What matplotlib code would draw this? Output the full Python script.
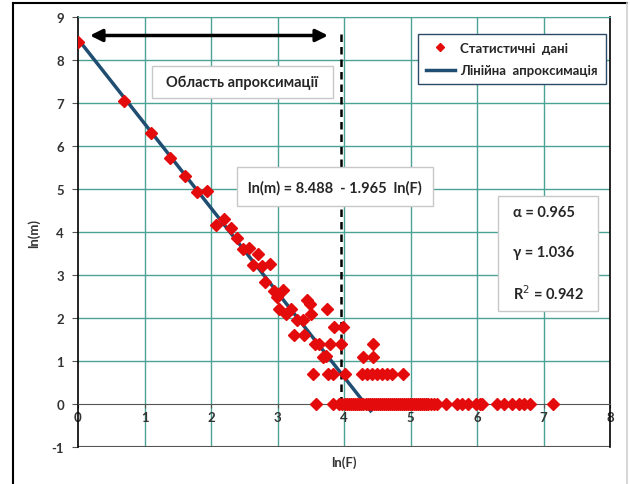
import matplotlib
matplotlib.use("Agg")
import matplotlib.pyplot as plt
from matplotlib.patches import Rectangle
from matplotlib.lines import Line2D

plt.rcParams['font.family'] = ['Lato', 'DejaVu Sans']

# ---- data ----
x_upper = [0.0, 0.693, 1.099, 1.386, 1.609, 1.792, 1.946, 2.079, 2.197, 2.303,
           2.398, 2.485, 2.575, 2.708, 2.639, 2.76, 2.89, 2.81, 2.94, 2.99,
           3.09, 3.03, 3.13, 3.20, 3.29, 3.39, 3.45, 3.49, 3.51, 3.25,
           3.40, 3.75, 3.85, 3.98, 3.56, 3.63, 3.79, 3.95, 3.69, 3.73,
           3.54, 3.76, 3.83, 4.02, 4.28, 4.44, 4.44]
y_upper = [8.41, 7.05, 6.31, 5.72, 5.30, 4.94, 4.96, 4.17, 4.30, 4.09,
           3.87, 3.61, 3.62, 3.49, 3.23, 3.21, 3.26, 2.84, 2.62, 2.50,
           2.65, 2.21, 2.09, 2.21, 1.95, 1.95, 2.43, 2.33, 2.09, 1.61,
           1.61, 2.21, 1.79, 1.79, 1.39, 1.39, 1.39, 1.39, 1.10, 1.12,
           0.69, 0.69, 0.69, 0.69, 1.10, 1.10, 1.39]
x_row069 = [4.27, 4.34, 4.42, 4.49, 4.57, 4.64, 4.72, 4.88]
y_row069 = [0.69] * len(x_row069)
x_row0 = [3.58, 3.83, 3.93, 3.97, 4.01, 4.04, 4.08, 4.11, 4.14, 4.17, 4.20,
          4.22, 4.25, 4.29, 4.33, 4.36, 4.39, 4.42, 4.45, 4.48, 4.51, 4.54,
          4.57, 4.60, 4.63, 4.66, 4.69, 4.72, 4.75, 4.78, 4.81, 4.84, 4.87,
          4.90, 4.93, 4.96, 4.99, 5.02, 5.05, 5.08, 5.11, 5.14, 5.17, 5.20,
          5.23, 5.27, 5.31, 5.35, 5.40, 5.53, 5.70, 5.78, 5.86, 5.99, 6.04,
          6.08, 6.30, 6.40, 6.53, 6.63, 6.71, 6.79, 7.15]
y_row0 = [0.0] * len(x_row0)

fit_a = 8.488
fit_b = 1.965
fit_x = [0.0, 4.40]
cutoff_x = 3.96

x_ticks = [0, 1, 2, 3, 4, 5, 6, 7, 8]
y_ticks = [-1, 0, 1, 2, 3, 4, 5, 6, 7, 8, 9]

legend_labels = ["Статистичні  дані", "Лінійна  апроксимація"]
region_text = "Область апроксимації"
eq_text = "ln(m) = 8.488  - 1.965  ln(F)"
param_lines = ["\u03b1 = 0.965", "\u03b3 = 1.036", "R$^2$ = 0.942"]

# ---- figure ----
W, H = 630, 485
fig = plt.figure(figsize=(W / 100, H / 100), dpi=100)
ax = fig.add_axes([78 / W, (H - 448) / H, (610 - 78) / W, (448 - 18) / H])
ax.set_xlim(0, 8)
ax.set_ylim(-1, 9)

grid_c = '#4aa394'
for xv in x_ticks[1:-1]:
    ax.axvline(xv, color=grid_c, lw=1.0, zorder=0)
for yv in y_ticks[2:]:
    ax.axhline(yv, color=grid_c, lw=1.0, zorder=0)

ax.spines['bottom'].set_position(('data', 0))
ax.spines['bottom'].set_color('#555555')
ax.spines['left'].set_color('#000000')
ax.spines['right'].set_color('#000000')
ax.spines['top'].set_color(grid_c)
ax.axhline(-1, color='#555555', lw=1.5, zorder=1)
ax.spines['left'].set_linewidth(1.2)
ax.spines['right'].set_linewidth(1.2)

ax.set_xticks(x_ticks)
ax.set_yticks(y_ticks)
tick_font = dict(fontsize=9.5, fontweight='bold', color='#333333')
ax.set_xticklabels([str(v) for v in x_ticks], **tick_font)
ax.set_yticklabels([str(v) for v in y_ticks], **tick_font)
ax.tick_params(axis='x', length=3, pad=2, color='#555555')
ax.tick_params(axis='y', length=4, pad=6, color='#555555')

ax.set_xlabel('ln(F)', fontsize=9.5, fontweight='bold', color='#333333')
ax.xaxis.set_label_coords(0.5, -0.02)
ax.set_ylabel('ln(m)', fontsize=9.5, fontweight='bold', color='#333333')
ax.yaxis.set_label_coords(-0.072, 0.5)

# fit line
fit_y = [fit_a - fit_b * v for v in fit_x]
line_c = '#1f4e72'
ax.plot(fit_x, fit_y, color=line_c, lw=2.5, zorder=3, label=legend_labels[1])

# points
mk = dict(marker='D', ms=6.5, color='#e30b0b', mec='#e30b0b', ls='none', zorder=4)
ax.plot(x_upper + x_row069 + x_row0, y_upper + y_row069 + y_row0, label=legend_labels[0], **mk)

# cutoff dashed line
ax.plot([cutoff_x, cutoff_x], [0, 8.68], color='black', lw=1.8, ls=(0, (3, 2)), zorder=3)

# double arrow
ax.annotate('', xy=(0.18, 8.57), xytext=(3.76, 8.57),
            arrowprops=dict(arrowstyle='<|-|>', color='black', lw=2.5,
                            mutation_scale=18, shrinkA=0, shrinkB=0), zorder=5)

box_ec = '#c8c8c8'
# region box
ax.add_patch(Rectangle((1.108, 7.107), 3.829 - 1.108, 7.865 - 7.107, fc='white', ec=box_ec, lw=1, zorder=5))
ax.text((1.108 + 3.829) / 2, (7.107 + 7.865) / 2, region_text, ha='center', va='center',
        fontsize=10.5, fontweight='bold', color='#262626', zorder=6)
# equation box
ax.add_patch(Rectangle((2.395, 4.595), 5.343 - 2.395, 5.505 - 4.595, fc='white', ec=box_ec, lw=1, zorder=5))
ax.text((2.395 + 5.343) / 2, (4.595 + 5.505) / 2, eq_text, ha='center', va='center',
        fontsize=10.5, fontweight='bold', color='#262626', zorder=6)
# parameter box
ax.add_patch(Rectangle((6.32, 2.16), 7.82 - 6.32, 4.84 - 2.16, fc='white', ec=box_ec, lw=1, zorder=5))
for i, s in enumerate(param_lines):
    ax.text(6.54, 4.47 - 0.935 * i, s, ha='left', va='center',
            fontsize=10.5, fontweight='bold', color='#262626', zorder=6)

# legend (points first, then line)
h, l = ax.get_legend_handles_labels()
leg = ax.legend([h[1], h[0]], [l[1], l[0]], loc='upper left',
                bbox_to_anchor=((418 - 78) / 532, (448 - 35) / 430),
                frameon=True, fancybox=False, edgecolor='#2b4a66', framealpha=1,
                prop=dict(size=9.5, weight='bold'), handlelength=2.2, borderpad=0.6,
                labelspacing=0.8, handletextpad=0.4, borderaxespad=0, numpoints=1,
                markerscale=0.6)
leg.get_frame().set_linewidth(1.0)
leg.set_zorder(7)
for t in leg.get_texts():
    t.set_color('#262626')

# outer border
fig.add_artist(Line2D([13 / W, 13 / W], [0, 1 - 4 / H], color='black', lw=1.5, transform=fig.transFigure))
fig.add_artist(Line2D([13 / W, 627 / W], [1 - 4 / H, 1 - 4 / H], color='black', lw=1.5, transform=fig.transFigure))
fig.add_artist(Line2D([627 / W, 627 / W], [0, 1 - 4 / H], color='#d0d0d0', lw=1.2, transform=fig.transFigure))

fig.savefig('out.png', dpi=100)
